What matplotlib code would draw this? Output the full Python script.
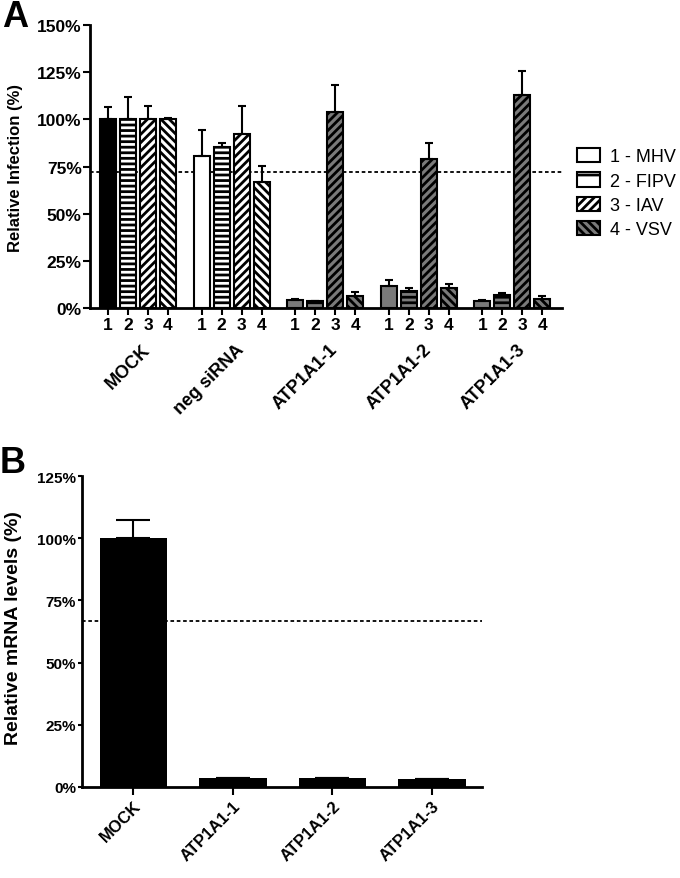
import numpy as np
import matplotlib.pyplot as plt
from matplotlib.patches import Patch
from matplotlib.transforms import blended_transform_factory

plt.rcParams['font.family'] = ['Liberation Sans', 'DejaVu Sans']
plt.rcParams['hatch.linewidth'] = 2.0

# panel A data
groups = ['MOCK', 'neg siRNA', 'ATP1A1-1', 'ATP1A1-2', 'ATP1A1-3']
viruses = ['1 - MHV', '2 - FIPV', '3 - IAV', '4 - VSV']
bar_ticks = ['1', '2', '3', '4']
mhv = [100, 80.8, 4.4, 12.0, 4.0]
mhv_err = [6.8, 13.6, 0.6, 3.0, 0.5]
fipv = [100, 85.3, 3.7, 9.3, 7.2]
fipv_err = [11.8, 2.3, 0.0, 1.4, 0.9]
iav = [100, 92.3, 104.1, 78.9, 113.1]
iav_err = [7.0, 15.0, 14.2, 8.8, 12.6]
vsv = [100, 66.7, 6.7, 10.7, 4.9]
vsv_err = [0.5, 8.8, 1.8, 2.2, 1.8]
cutoff_a = 72

# panel B data
knockdowns = ['MOCK', 'ATP1A1-1', 'ATP1A1-2', 'ATP1A1-3']
mrna = [100, 3.4, 3.6, 2.9]
mrna_err = [7.5, 0, 0, 0]
cutoff_b = 66.6

series = [mhv, fipv, iav, vsv]
series_err = [mhv_err, fipv_err, iav_err, vsv_err]
hatches = ['', '---', '////', '\\\\\\\\']
group_fill = ['white', 'white', '#7a7a7a', '#7a7a7a', '#7a7a7a']
legend_fill = ['white', 'white', 'white', '#7a7a7a']

fig = plt.figure(figsize=(6.8, 8.79), dpi=100)
W, H = 680.0, 879.0

# ---------- panel A ----------
axA = fig.add_axes([90 / W, 1 - 309.3 / H, 472 / W, 283.3 / H])
gstep = 4.68
xs_all, lab_all = [], []
for b in range(4):
    xs = np.arange(len(groups)) * gstep + b
    for g in range(len(groups)):
        fc = group_fill[g]
        if g == 0 and b == 0:
            fc = 'black'
        axA.bar(xs[g], series[b][g], width=0.8, color=fc, edgecolor='black',
                linewidth=1.5, hatch=hatches[b], zorder=2)
    axA.errorbar(xs, series[b], yerr=[np.zeros(len(groups)), series_err[b]],
                 fmt='none', ecolor='black', elinewidth=1.5, capsize=3,
                 capthick=1.5, zorder=3)
    xs_all += list(xs)
    lab_all += [bar_ticks[b]] * len(groups)

axA.axhline(cutoff_a, color='black', lw=1.3, ls=(0, (2, 1.5)), zorder=1)
axA.set_xlim(-0.9, 22.7)
axA.set_ylim(0, 150)
axA.set_xticks(xs_all)
axA.set_xticklabels(lab_all)
axA.set_yticks([0, 25, 50, 75, 100, 125, 150])
axA.set_yticklabels(['0%', '25%', '50%', '75%', '100%', '125%', '150%'])
axA.tick_params(axis='both', width=1.5, length=5, pad=1, labelsize=12.5)
for lb in axA.get_xticklabels() + axA.get_yticklabels():
    lb.set_fontweight('bold')
for s in ['top', 'right']:
    axA.spines[s].set_visible(False)
for s in ['left', 'bottom']:
    axA.spines[s].set_linewidth(2)
axA.set_ylabel('Relative Infection (%)', fontsize=12, fontweight='bold')
axA.yaxis.set_label_coords(-0.142, 0.5)

trans = blended_transform_factory(axA.transData, axA.transAxes)
for g, name in enumerate(groups):
    axA.text(g * gstep + 2.3, -0.115, name, transform=trans, rotation=45,
             ha='right', va='top', fontsize=13, fontweight='bold')

handles = [Patch(facecolor=legend_fill[i], edgecolor='black', linewidth=1.5,
                 hatch=hatches[i] if i != 1 else '-', label=viruses[i]) for i in range(4)]
fig.legend(handles=handles, loc='upper left', bbox_to_anchor=(577 / W, 1 - 149 / H),
           frameon=False, fontsize=13, handlelength=1.3, handleheight=0.85,
           handletextpad=0.55, labelspacing=0.38, borderpad=0, borderaxespad=0)

# ---------- panel B ----------
axB = fig.add_axes([81.7 / W, 1 - 787.7 / H, 400 / W, 310.4 / H])
xb = np.arange(len(knockdowns))
axB.bar(xb, mrna, width=0.68, color='black', edgecolor='black', linewidth=0, zorder=2)
axB.errorbar(xb, mrna, yerr=[np.zeros(len(mrna)), mrna_err], fmt='none',
             ecolor='black', elinewidth=1.5, capsize=12, capthick=1.5, zorder=3)
axB.axhline(cutoff_b, color='black', lw=1.3, ls=(0, (2, 1.5)), zorder=1)
axB.set_xlim(-0.52, 3.5)
axB.set_ylim(0, 125)
axB.set_xticks(xb)
axB.set_xticklabels(knockdowns, rotation=45, ha='right', rotation_mode='anchor')
axB.set_yticks([0, 25, 50, 75, 100, 125])
axB.set_yticklabels(['0%', '25%', '50%', '75%', '100%', '125%'])
axB.tick_params(axis='x', width=1.5, length=6, pad=2, labelsize=12)
axB.tick_params(axis='y', width=1.5, length=3, pad=1, labelsize=11)
for lb in axB.get_xticklabels() + axB.get_yticklabels():
    lb.set_fontweight('bold')
for s in ['top', 'right']:
    axB.spines[s].set_visible(False)
for s in ['left', 'bottom']:
    axB.spines[s].set_linewidth(2)
axB.set_ylabel('Relative mRNA levels (%)', fontsize=14, fontweight='bold')
axB.yaxis.set_label_coords(-0.15, 0.513)

fig.text(2 / W, 1 - 27 / H, 'A', fontsize=26, fontweight='bold', va='baseline')
fig.text(0 / W, 1 - 473 / H, 'B', fontsize=26, fontweight='bold', va='baseline')

fig.savefig('out.png', dpi=100)
